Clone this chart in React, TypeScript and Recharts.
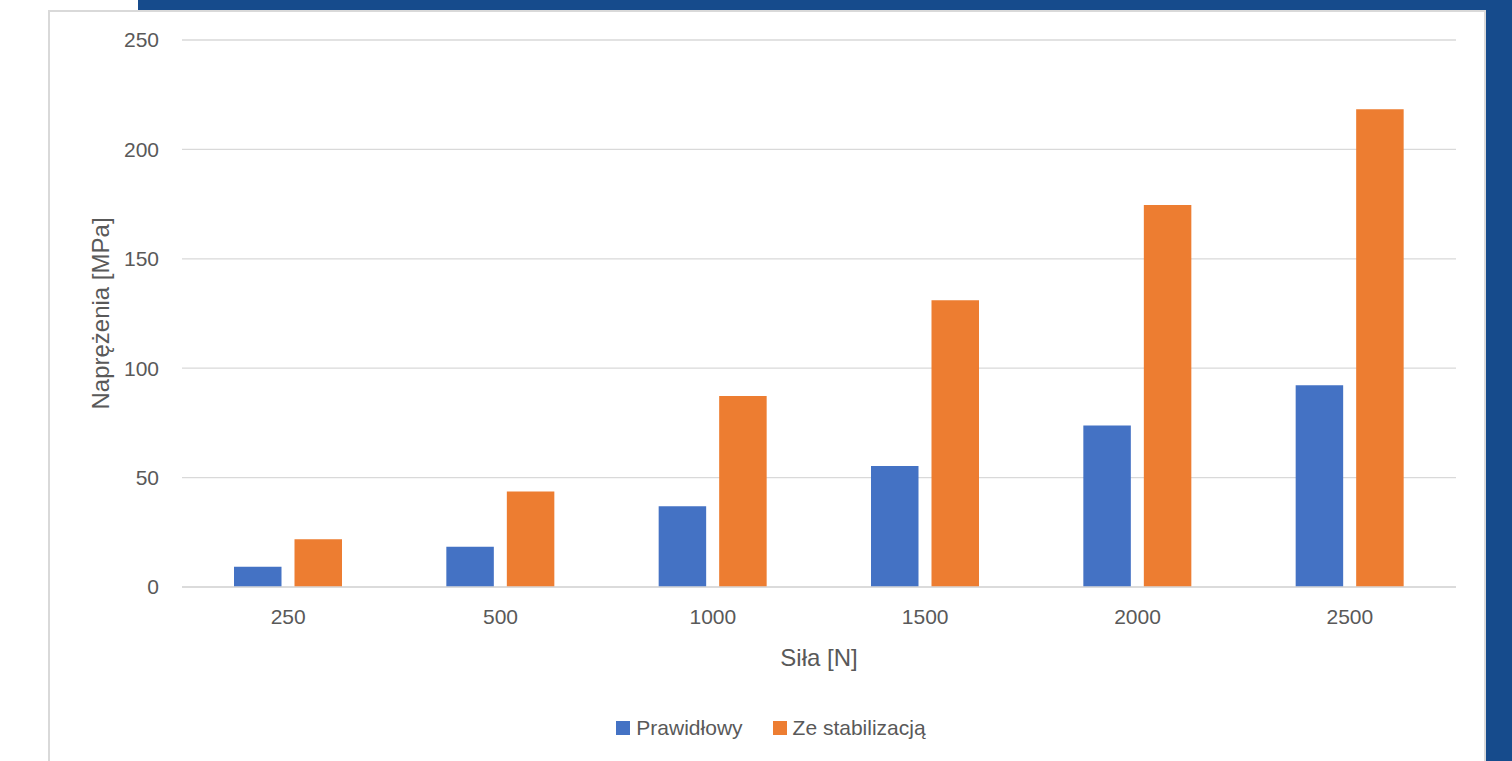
import React from 'react';
import { BarChart, Bar, XAxis, YAxis, CartesianGrid, Legend, Label } from 'recharts';

const categories = ['250', '500', '1000', '1500', '2000', '2500'];
const prawidlowy = [9.2, 18.4, 36.9, 55.3, 73.8, 92.2];
const zeStabilizacja = [21.8, 43.7, 87.3, 131.0, 174.6, 218.3];
const yTicks = [0, 50, 100, 150, 200, 250];

const seriesNames = { a: 'Prawidłowy', b: 'Ze stabilizacją' };
const colors = { a: '#4472C4', b: '#ED7D31' };

const data = categories.map((c, i) => ({ name: c, a: prawidlowy[i], b: zeStabilizacja[i] }));

const FONT = '"Liberation Sans", Arial, sans-serif';
const TEXT = '#595959';

const LegendContent = () => (
  <div style={{ display: 'flex', justifyContent: 'center', alignItems: 'center', height: 28, fontFamily: FONT, fontSize: 21, color: TEXT }}>
    {(['a', 'b'] as const).map((k, i) => (
      <div key={k} style={{ display: 'flex', alignItems: 'center', marginLeft: i ? 30 : 0 }}>
        <span style={{ width: 14, height: 14, background: colors[k], display: 'inline-block', marginRight: 6 }} />
        <span>{seriesNames[k]}</span>
      </div>
    ))}
  </div>
);

export default function App() {
  return (
    <div style={{ position: 'absolute', left: 0, top: 0, width: 1512, height: 761, background: '#fff', overflow: 'hidden' }}>
      <div style={{ position: 'absolute', left: 138, top: 0, width: 1374, height: 11, background: '#164B8C' }} />
      <div style={{ position: 'absolute', left: 1486, top: 0, width: 26, height: 761, background: '#164B8C' }} />
      <div style={{ position: 'absolute', left: 48, top: 10, width: 1434, height: 780, background: '#fff', borderLeft: '2px solid #d9d9d9', borderTop: '2px solid #d9d9d9', borderRight: '2px solid #d9d9d9' }} />
      <div style={{ position: 'absolute', left: 0, top: 0 }}>
        <BarChart width={1512} height={761} data={data} margin={{ top: 40, right: 56, bottom: 19, left: 0 }} barSize={47.5} barGap={13}>
          <CartesianGrid vertical={false} stroke="#d9d9d9" strokeWidth={1.3} />
          <XAxis dataKey="name" height={127} axisLine={{ stroke: '#d9d9d9', strokeWidth: 1.5 }} tickLine={false} tickMargin={16}
            tick={{ fill: TEXT, fontSize: 21, fontFamily: FONT }}>
            <Label value="Siła [N]" position="center" dy={7} style={{ fill: TEXT, fontSize: 24, fontFamily: FONT }} />
          </XAxis>
          <YAxis width={182} domain={[0, 250]} ticks={yTicks} axisLine={false} tickLine={false} tickMargin={17}
            tick={{ fill: TEXT, fontSize: 21, fontFamily: FONT }}>
            <Label value="Naprężenia [MPa]" position="center" angle={-90} dx={9} style={{ fill: TEXT, fontSize: 24, fontFamily: FONT, textAnchor: 'middle' }} />
          </YAxis>
          <Legend verticalAlign="bottom" content={<LegendContent />} wrapperStyle={{ left: 30, width: 1482 }} />
          <Bar dataKey="a" name={seriesNames.a} fill={colors.a} isAnimationActive={false} />
          <Bar dataKey="b" name={seriesNames.b} fill={colors.b} isAnimationActive={false} />
        </BarChart>
      </div>
    </div>
  );
}
